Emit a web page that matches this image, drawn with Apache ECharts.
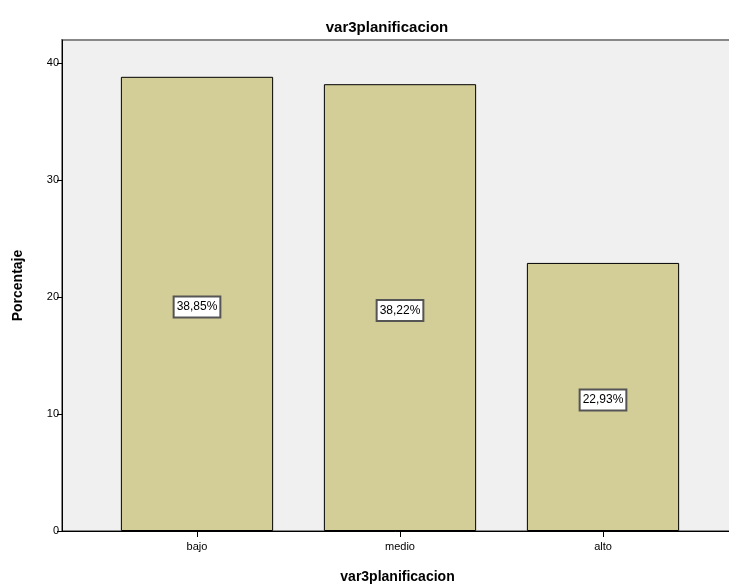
<!DOCTYPE html>
<html><head><meta charset="utf-8">
<script src="https://cdn.jsdelivr.net/npm/echarts@6/dist/echarts.min.js"></script>
<style>html,body{margin:0;padding:0;background:#fff}#c{width:729px;height:585px}</style>
</head><body><div id="c"></div>
<script>
const categories = ['bajo', 'medio', 'alto'];
const percentages = [38.85, 38.22, 22.93];
const percentLabels = ['38,85%', '38,22%', '22,93%'];
const yTicks = [0, 10, 20, 30, 40];

const chart = echarts.init(document.getElementById('c'));
const FONT = '"Liberation Sans", Arial, sans-serif';
chart.setOption({
  animation: false,
  title: {
    text: 'var3planificacion', left: 382, top: 15, textAlign: 'center',
    textStyle: { fontFamily: FONT, fontSize: 15, fontWeight: 'bold', color: '#000' }
  },
  grid: [
    { left: 62, top: 40, right: -4, bottom: 54, show: true, backgroundColor: '#f0f0f0', borderColor: '#888', borderWidth: 2, outerBoundsMode: 'none', containLabel: false },
    { left: 95.5, top: 40, width: 609, bottom: 54, outerBoundsMode: 'none', containLabel: false }
  ],
  xAxis: [
    { gridIndex: 0, type: 'value', min: 0, max: 1, axisLine: { show: true, onZero: false, lineStyle: { color: '#000', width: 1 } },
      axisTick: { show: false }, axisLabel: { show: false }, splitLine: { show: false },
      name: 'var3planificacion', nameLocation: 'middle', nameGap: 39,
      nameTextStyle: { fontFamily: FONT, fontSize: 14, fontWeight: 'bold', color: '#000' } },
    { gridIndex: 1, type: 'category', data: categories, axisLine: { show: false },
      axisTick: { show: true, alignWithLabel: true, length: 6, lineStyle: { color: '#000' } },
      axisLabel: { fontFamily: FONT, fontSize: 11, color: '#000', margin: 10 } }
  ],
  yAxis: [
    { gridIndex: 0, type: 'value', min: 0, max: 42, interval: 10,
      axisLine: { show: true, lineStyle: { color: '#000', width: 1 } },
      axisTick: { show: true, length: 5, lineStyle: { color: '#000' }, customValues: yTicks },
      axisLabel: { fontFamily: FONT, fontSize: 11, color: '#000', margin: 3, customValues: yTicks },
      splitLine: { show: false },
      name: 'Porcentaje', nameLocation: 'middle', nameGap: 37, nameRotate: 90,
      nameTextStyle: { fontFamily: FONT, fontSize: 14, fontWeight: 'bold', color: '#000' } },
    { gridIndex: 1, type: 'value', min: 0, max: 42, show: false, splitLine: { show: false } }
  ],
  series: [{
    type: 'bar', xAxisIndex: 1, yAxisIndex: 1, data: percentages,
    barCategoryGap: '25%',
    itemStyle: { color: '#d3cd97', borderColor: '#000', borderWidth: 1 },
    label: {
      show: true, position: 'inside', offset: [0, 3],
      formatter: p => percentLabels[p.dataIndex],
      fontFamily: FONT, fontSize: 12, color: '#000',
      backgroundColor: '#fff', borderColor: '#555', borderWidth: 2, padding: [4, 2, 3, 2]
    }
  }]
});
</script></body></html>
